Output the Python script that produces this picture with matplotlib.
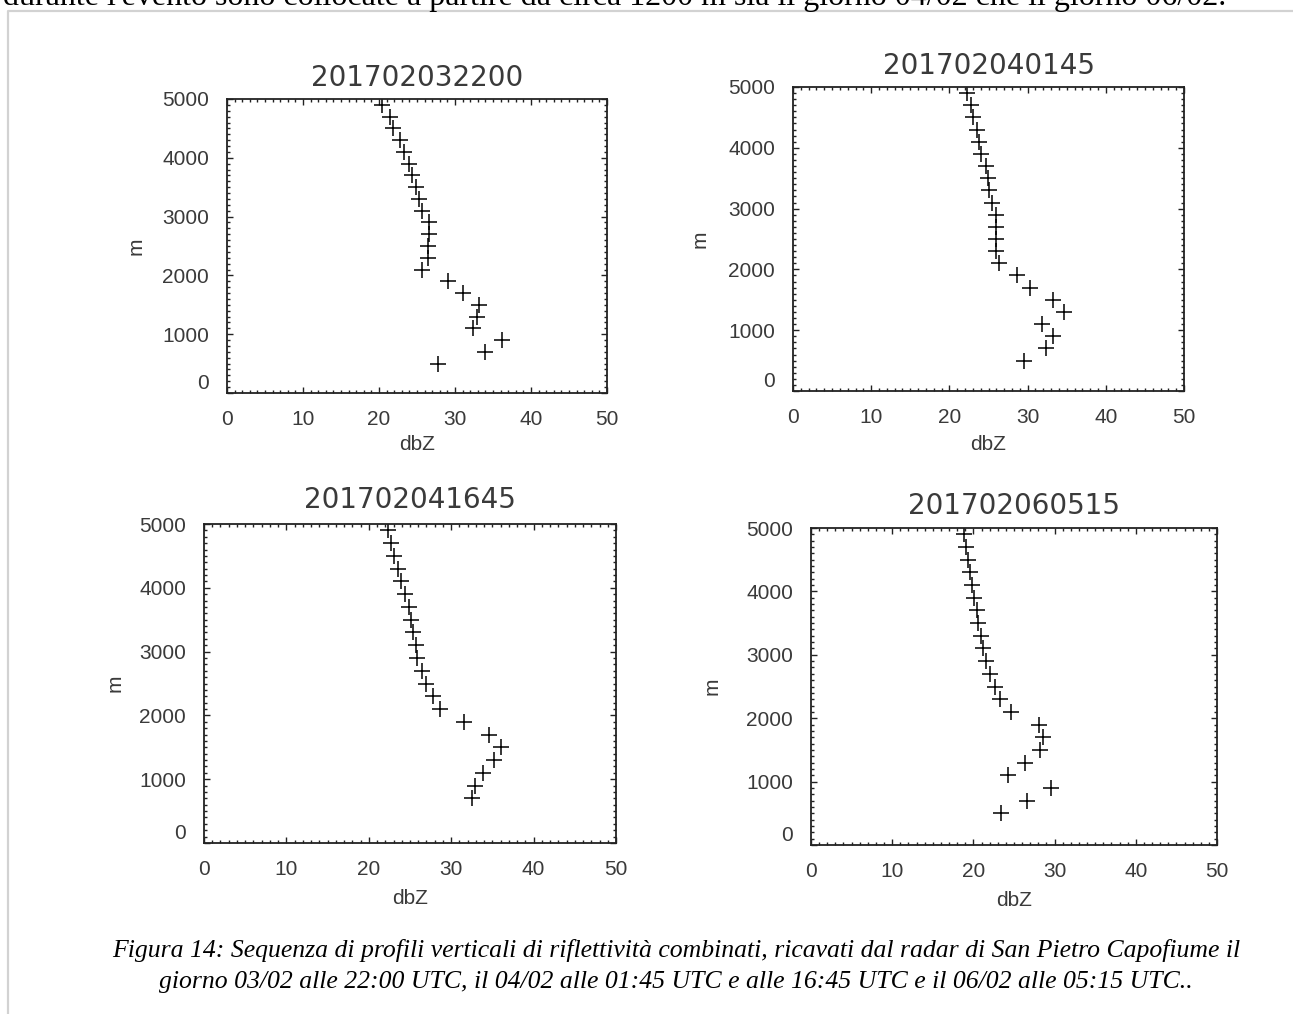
import matplotlib
matplotlib.use("Agg")
import matplotlib.pyplot as plt
from matplotlib.ticker import MultipleLocator, FixedLocator
from matplotlib.lines import Line2D

# ---------------- data ----------------
titles = ["201702032200", "201702040145", "201702041645", "201702060515"]

heights_a = [500, 700, 900, 1100, 1300, 1500, 1700, 1900, 2100, 2300, 2500, 2700,
             2900, 3100, 3300, 3500, 3700, 3900, 4100, 4300, 4500, 4700, 4900]
heights_c = [700, 900, 1100, 1300, 1500, 1700, 1900, 2100, 2300, 2500, 2700,
             2900, 3100, 3300, 3500, 3700, 3900, 4100, 4300, 4500, 4700, 4900]

dbz_1 = [27.8, 33.9, 36.2, 32.4, 32.9, 33.1, 31.1, 29.1, 25.7, 26.5, 26.5, 26.6,
         26.6, 25.6, 25.3, 24.9, 24.3, 23.9, 23.3, 22.8, 21.9, 21.4, 20.4]
dbz_2 = [29.5, 32.4, 33.2, 31.9, 34.6, 33.2, 30.3, 28.7, 26.3, 26.0, 26.0, 26.0,
         25.9, 25.4, 25.1, 24.9, 24.7, 24.1, 23.8, 23.5, 23.0, 22.7, 22.2]
dbz_3 = [32.5, 32.9, 33.8, 35.2, 36.1, 34.6, 31.5, 28.6, 27.8, 27.0, 26.4,
         25.9, 25.7, 25.4, 25.1, 24.9, 24.4, 23.9, 23.6, 23.1, 22.7, 22.3]
dbz_4 = [23.4, 26.6, 29.5, 24.2, 26.3, 28.2, 28.6, 28.1, 24.6, 23.3, 22.7, 22.0,
         21.5, 21.2, 20.9, 20.6, 20.5, 20.1, 19.8, 19.6, 19.3, 19.1, 18.9]

series = [(dbz_1, heights_a), (dbz_2, heights_a), (dbz_3, heights_c), (dbz_4, heights_a)]

x_ticks = [0, 10, 20, 30, 40, 50]
y_ticks = [0, 1000, 2000, 3000, 4000, 5000]
x_label = "dbZ"
y_label = "m"

top_text = "durante l'evento sono collocate a partire da circa 1200 m sia il giorno 04/02 che il giorno 06/02."
caption_1 = "Figura 14: Sequenza di profili verticali di riflettività combinati, ricavati dal radar di San Pietro Capofiume il"
caption_2 = "giorno 03/02 alle 22:00 UTC, il 04/02 alle 01:45 UTC e alle 16:45 UTC e il 06/02 alle 05:15 UTC.."

# ---------------- layout (pixels) ----------------
W, H = 1293, 1014
# left, right, top, bottom in pixels
boxes = [(227, 607, 99, 393), (793, 1184, 87, 391), (204, 616, 524, 843), (811, 1217, 528, 845)]
title_off = [21, 21, 24, 22]
ylab_off = [91, 93, 89, 99]
xlab_off = [52, 53, 55, 55]

TXT = "#3a3a3a"

fig = plt.figure(figsize=(W / 100, H / 100), dpi=100)
fig.patch.set_facecolor("white")

for i, ((l, r, t, b), (xs, ys)) in enumerate(zip(boxes, series)):
    w, h = r - l, b - t
    ax = fig.add_axes([l / W, (H - b) / H, w / W, h / H])
    ax.plot(xs, ys, ls="none", marker="+", ms=11, mew=1.1, color="black")
    ax.set_xlim(0, 50)
    ax.set_ylim(0, 5000)
    ax.xaxis.set_major_locator(FixedLocator(x_ticks))
    ax.yaxis.set_major_locator(FixedLocator(y_ticks))
    ax.xaxis.set_minor_locator(MultipleLocator(1))
    ax.yaxis.set_minor_locator(MultipleLocator(100))
    ax.tick_params(which="both", direction="in", top=True, right=True,
                   color="#222222", width=1.0)
    ax.tick_params(which="major", length=4.5)
    ax.tick_params(which="minor", length=2.3)
    ax.tick_params(axis="x", which="major", pad=12, labelsize=15, labelcolor=TXT)
    ax.tick_params(axis="y", which="major", pad=13, labelsize=15, labelcolor=TXT)
    ax.set_xticklabels([str(v) for v in x_ticks], fontfamily="Liberation Sans")
    ax.set_yticklabels([str(v) for v in y_ticks], fontfamily="Liberation Sans")
    ax.get_yticklabels()[0].set_va("bottom")
    for s in ax.spines.values():
        s.set_linewidth(1.3)
        s.set_color("#222222")
    ax.set_title(titles[i], y=1 + title_off[i] / h, va="center", pad=0,
                 fontsize=20, color=TXT, fontfamily="DejaVu Sans")
    ax.set_xlabel(x_label, fontsize=15, color=TXT, fontfamily="Liberation Sans")
    ax.set_ylabel(y_label, fontsize=15, color=TXT, fontfamily="Liberation Sans")
    ax.xaxis.set_label_coords(0.5, -xlab_off[i] / h)
    ax.xaxis.label.set_va("center")
    ax.yaxis.set_label_coords(-ylab_off[i] / w, 0.5)
    ax.yaxis.label.set_va("center")

# page frame
fig.add_artist(Line2D([8 / W, 8 / W, 1.0], [0.0, 1 - 11 / H, 1 - 11 / H],
                      transform=fig.transFigure, color="#d2d2d2", lw=1.6))

# partially visible text line at top of the page (cut by the page edge, as in the source)
fig.text(3 / W, 1 - 5 / H, top_text, ha="left", va="baseline",
         fontsize=23, fontfamily="Liberation Serif", color="black")

# caption
fig.text(676 / W, 1 - 950 / H, caption_1, ha="center", va="center",
         fontsize=18.5, fontfamily="Liberation Serif", fontstyle="italic", color="black")
fig.text(676 / W, 1 - 982 / H, caption_2, ha="center", va="center",
         fontsize=18.5, fontfamily="Liberation Serif", fontstyle="italic", color="black")

fig.savefig("out.png", dpi=100)
